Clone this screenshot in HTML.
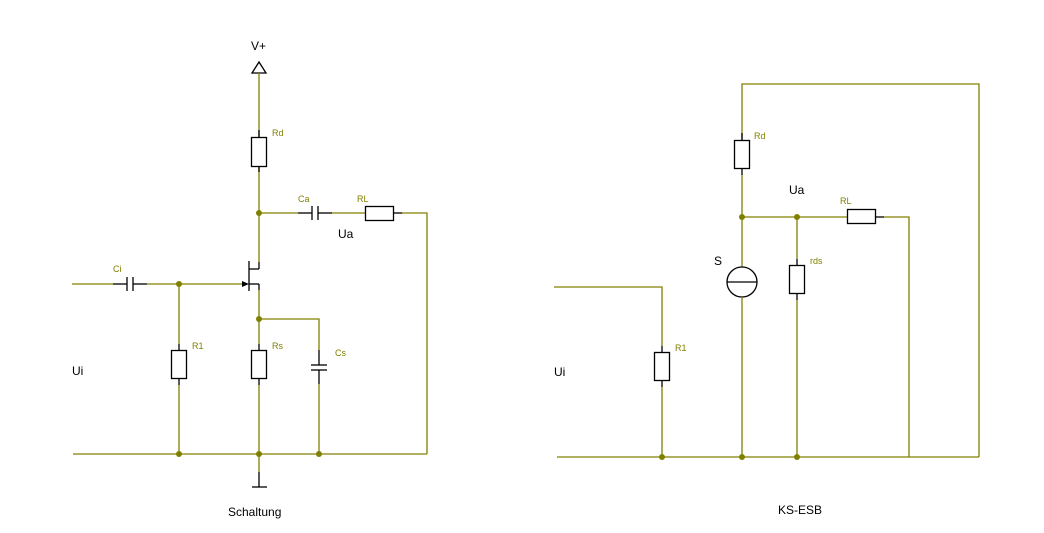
<!DOCTYPE html>
<html><head><meta charset="utf-8"><style>
html,body{margin:0;padding:0;background:#fff;}
svg{display:block;}
text{font-family:"Liberation Sans",sans-serif;}
.w{stroke:#808000;stroke-width:1.3;fill:none;}
.b{stroke:#000;stroke-width:1.3;fill:none;}
.r{stroke:#000;stroke-width:1.3;fill:#fff;}
.lbl{fill:#808000;font-size:9px;}
.t{fill:#000;font-size:12px;}
.j{fill:#808000;}
</style></head><body>
<svg width="1044" height="533" viewBox="0 0 1044 533">
<!-- LEFT -->
<polygon points="259,62 252,73 266,73" class="r"/>
<line x1="259" y1="73" x2="259" y2="137" class="w"/>
<line x1="259" y1="130" x2="259" y2="137" class="b"/>
<rect x="251.5" y="137.5" width="15" height="29" class="r"/>
<line x1="259" y1="167" x2="259" y2="262" class="w"/>
<line x1="259" y1="172" x2="259" y2="167" class="b"/>
<!-- Ca -->
<line x1="259" y1="213" x2="298" y2="213" class="w"/>
<line x1="298" y1="213" x2="312" y2="213" class="b"/>
<line x1="312" y1="206" x2="312" y2="220" class="b"/>
<line x1="318" y1="206" x2="318" y2="220" class="b"/>
<line x1="318" y1="213" x2="332" y2="213" class="b"/>
<line x1="332" y1="213" x2="365" y2="213" class="w"/>
<rect x="365.5" y="206.5" width="28" height="14" class="r"/>
<line x1="393" y1="213" x2="402" y2="213" class="b"/>
<polyline points="402,213 427,213 427,454" class="w"/>
<!-- JFET -->
<line x1="259" y1="262" x2="259" y2="269" class="b"/>
<line x1="249" y1="269" x2="259" y2="269" class="b"/>
<line x1="249" y1="261" x2="249" y2="291" class="b"/>
<line x1="249" y1="284" x2="259" y2="284" class="b"/>
<line x1="259" y1="284" x2="259" y2="290" class="b"/>
<polygon points="249,284 242,281 242,287" fill="#000"/>
<!-- gate / Ci -->
<line x1="72" y1="284" x2="113" y2="284" class="w"/>
<line x1="113" y1="284" x2="127" y2="284" class="b"/>
<line x1="127" y1="277" x2="127" y2="291" class="b"/>
<line x1="133" y1="277" x2="133" y2="291" class="b"/>
<line x1="133" y1="284" x2="147" y2="284" class="b"/>
<line x1="147" y1="284" x2="242" y2="284" class="w"/>
<!-- R1 -->
<line x1="179" y1="284" x2="179" y2="344" class="w"/>
<line x1="179" y1="344" x2="179" y2="350" class="b"/>
<rect x="171.5" y="350.5" width="15" height="28" class="r"/>
<line x1="179" y1="379" x2="179" y2="385" class="b"/>
<line x1="179" y1="385" x2="179" y2="454" class="w"/>
<!-- source -->
<line x1="259" y1="290" x2="259" y2="344" class="w"/>
<line x1="259" y1="344" x2="259" y2="350" class="b"/>
<rect x="251.5" y="350.5" width="15" height="28" class="r"/>
<line x1="259" y1="379" x2="259" y2="385" class="b"/>
<line x1="259" y1="385" x2="259" y2="454" class="w"/>
<polyline points="259,319 319,319 319,350" class="w"/>
<line x1="319" y1="350" x2="319" y2="365" class="b"/>
<line x1="311" y1="365" x2="327" y2="365" class="b"/>
<line x1="311" y1="370" x2="327" y2="370" class="b"/>
<line x1="319" y1="370" x2="319" y2="384" class="b"/>
<line x1="319" y1="384" x2="319" y2="454" class="w"/>
<line x1="73" y1="454" x2="427" y2="454" class="w"/>
<line x1="259" y1="454" x2="259" y2="472" class="w"/>
<line x1="259" y1="472" x2="259" y2="487" class="b"/>
<line x1="252" y1="487" x2="267" y2="487" class="b"/>
<circle cx="259" cy="213" r="3" class="j"/>
<circle cx="179" cy="284" r="3" class="j"/>
<circle cx="259" cy="319" r="3" class="j"/>
<circle cx="179" cy="454" r="3" class="j"/>
<circle cx="259" cy="454" r="3" class="j"/>
<circle cx="319" cy="454" r="3" class="j"/>
<text x="251" y="50" class="t">V+</text>
<text x="272" y="136" class="lbl">Rd</text>
<text x="298" y="202" class="lbl">Ca</text>
<text x="357" y="202" class="lbl">RL</text>
<text x="338" y="238" class="t">Ua</text>
<text x="113" y="272" class="lbl">Ci</text>
<text x="192" y="349" class="lbl">R1</text>
<text x="272" y="349" class="lbl">Rs</text>
<text x="335" y="356" class="lbl">Cs</text>
<text x="72" y="375" class="t">Ui</text>
<text x="228" y="516" class="t">Schaltung</text>
<!-- RIGHT -->
<polyline points="742,140 742,84 979,84 979,457" class="w"/>
<line x1="742" y1="133" x2="742" y2="140" class="b"/>
<rect x="734.5" y="140.5" width="15" height="28" class="r"/>
<line x1="742" y1="169" x2="742" y2="175" class="b"/>
<line x1="742" y1="175" x2="742" y2="267" class="w"/>
<line x1="742" y1="217" x2="847" y2="217" class="w"/>
<rect x="847.5" y="209.5" width="28" height="14" class="r"/>
<line x1="876" y1="217" x2="884" y2="217" class="b"/>
<polyline points="884,217 909,217 909,457" class="w"/>
<circle cx="742" cy="282" r="15" class="r"/>
<line x1="727" y1="282" x2="757" y2="282" class="b"/>
<line x1="742" y1="297" x2="742" y2="457" class="w"/>
<line x1="797" y1="217" x2="797" y2="259" class="w"/>
<line x1="797" y1="259" x2="797" y2="265" class="b"/>
<rect x="789.5" y="265.5" width="15" height="28" class="r"/>
<line x1="797" y1="294" x2="797" y2="300" class="b"/>
<line x1="797" y1="300" x2="797" y2="457" class="w"/>
<polyline points="554,287 662,287 662,346" class="w"/>
<line x1="662" y1="346" x2="662" y2="352" class="b"/>
<rect x="654.5" y="352.5" width="15" height="28" class="r"/>
<line x1="662" y1="381" x2="662" y2="387" class="b"/>
<line x1="662" y1="387" x2="662" y2="457" class="w"/>
<line x1="557" y1="457" x2="979" y2="457" class="w"/>
<circle cx="742" cy="217" r="3" class="j"/>
<circle cx="797" cy="217" r="3" class="j"/>
<circle cx="662" cy="457" r="3" class="j"/>
<circle cx="742" cy="457" r="3" class="j"/>
<circle cx="797" cy="457" r="3" class="j"/>
<text x="754" y="139" class="lbl">Rd</text>
<text x="789" y="194" class="t">Ua</text>
<text x="840" y="204" class="lbl">RL</text>
<text x="714" y="265" class="t">S</text>
<text x="810" y="264" class="lbl">rds</text>
<text x="675" y="351" class="lbl">R1</text>
<text x="554" y="376" class="t">Ui</text>
<text x="778" y="514" class="t">KS-ESB</text>
</svg>
</body></html>
